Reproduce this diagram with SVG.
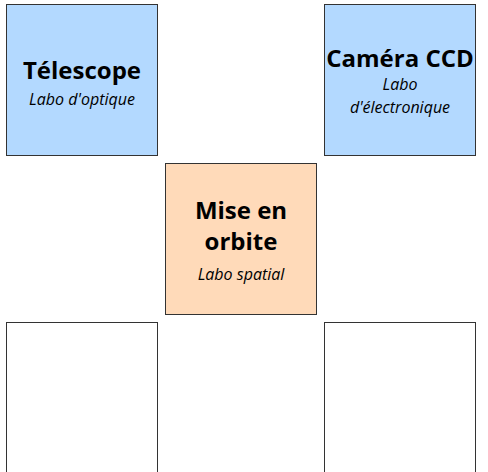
<svg xmlns="http://www.w3.org/2000/svg" width="488" height="472" viewBox="0 0 488 472">
<style>
.box{stroke:#333333;stroke-width:1}
.blue{fill:#b3d9ff}
.orange{fill:#ffdab9}
.white{fill:#ffffff}
.t{font-family:"Open Sans","Liberation Sans",sans-serif;font-weight:bold;font-size:24px;fill:#000;text-anchor:middle}
.s{font-family:"Open Sans","Liberation Sans",sans-serif;font-style:italic;font-size:16px;fill:#000;text-anchor:middle}
</style>
<rect width="488" height="472" fill="#ffffff"/>
<g id="connectors"></g>
<g id="telescope">
<rect class="box blue" x="6.5" y="4.5" width="151" height="151"/>
<text class="t" x="82" y="78.5">Télescope</text>
<text class="s" x="82" y="105">Labo d'optique</text>
</g>
<g id="camera">
<rect class="box blue" x="324.5" y="4.5" width="151" height="151"/>
<text class="t" x="400" y="66.5">Caméra CCD</text>
<text class="s" x="400" y="90">Labo</text>
<text class="s" x="400" y="112.5">d'électronique</text>
</g>
<g id="orbite">
<rect class="box orange" x="165.5" y="163.5" width="151" height="151"/>
<text class="t" x="241" y="218.5">Mise en</text>
<text class="t" x="241" y="250">orbite</text>
<text class="s" x="241" y="280">Labo spatial</text>
</g>
<g id="bottom-left">
<rect class="box white" x="6.5" y="322.5" width="151" height="151"/>
</g>
<g id="bottom-right">
<rect class="box white" x="324.5" y="322.5" width="151" height="151"/>
</g>
</svg>
